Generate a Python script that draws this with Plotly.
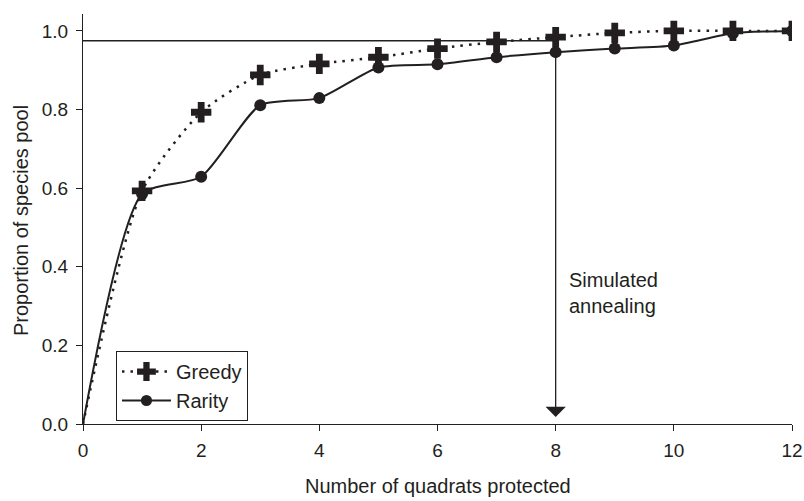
import plotly.graph_objects as go

quadrats = [0, 1, 2, 3, 4, 5, 6, 7, 8, 9, 10, 11, 12]
greedy = [0.0, 0.593, 0.793, 0.888, 0.916, 0.933, 0.955, 0.972, 0.984, 0.995, 1.0, 1.0, 1.0]
rarity = [0.0, 0.585, 0.629, 0.811, 0.829, 0.907, 0.915, 0.933, 0.946, 0.955, 0.963, 0.994, 1.0]
x_ticks = [0, 2, 4, 6, 8, 10, 12]
y_ticks = [0.0, 0.2, 0.4, 0.6, 0.8, 1.0]
target_level = 0.975
sa_quadrats = 8
sa_value = 0.946

ink = "#231f20"
font = "Liberation Sans, Arial, sans-serif"
FS = 20

# no marker drawn at the origin point
cross_sizes = [0] + [17] * (len(quadrats) - 1)
dot_sizes = [0] + [12] * (len(quadrats) - 1)

fig = go.Figure()
fig.add_trace(go.Scatter(
    x=quadrats, y=greedy, name="Greedy", mode="lines+markers",
    line=dict(color=ink, width=2.5, dash="2.5px,6px", shape="spline", smoothing=0.65),
    marker=dict(symbol="cross", size=cross_sizes, color=ink, opacity=1,
                line=dict(width=0)),
))
fig.add_trace(go.Scatter(
    x=quadrats, y=rarity, name="Rarity", mode="lines+markers",
    line=dict(color=ink, width=2, shape="spline", smoothing=0.65),
    marker=dict(symbol="circle", size=dot_sizes, color=ink, opacity=1,
                line=dict(width=0)),
))

fig.add_shape(type="line", x0=0, x1=sa_quadrats, y0=target_level, y1=target_level,
              xref="x", yref="y", line=dict(color=ink, width=1.3))
fig.add_annotation(x=sa_quadrats, y=0.018, ax=sa_quadrats, ay=sa_value,
                   xref="x", yref="y", axref="x", ayref="y",
                   text="", showarrow=True, arrowhead=1, arrowsize=2.6,
                   arrowwidth=1.3, arrowcolor=ink, standoff=0)
fig.add_annotation(x=sa_quadrats + 0.2, y=0.333, xref="x", yref="y",
                   text="Simulated<br>annealing", showarrow=False,
                   xanchor="left", yanchor="middle", align="left",
                   font=dict(family=font, size=FS, color=ink))

# axis titles
fig.add_annotation(x=0.5, y=-0.152, xref="paper", yref="paper",
                   text="Number of quadrats protected", showarrow=False,
                   xanchor="center", yanchor="middle",
                   font=dict(family=font, size=FS, color=ink))
fig.add_annotation(x=-0.0874, y=0.495, xref="paper", yref="paper",
                   text="Proportion of species pool", showarrow=False,
                   textangle=-90, xanchor="center", yanchor="middle",
                   font=dict(family=font, size=FS, color=ink))

fig.update_layout(
    width=804, height=501,
    margin=dict(l=83, r=12, t=14, b=77),
    paper_bgcolor="white", plot_bgcolor="white",
    font=dict(family=font, size=FS, color=ink),
    showlegend=True,
    legend=dict(x=0.0465, y=0.178, xanchor="left", yanchor="top",
                bordercolor=ink, borderwidth=1, bgcolor="white",
                font=dict(family=font, size=FS, color=ink),
                tracegroupgap=0, itemwidth=49),
    xaxis=dict(range=[0, 12], tickvals=x_ticks, ticks="outside", ticklen=6,
               tickcolor=ink, showline=True, linecolor=ink, linewidth=1.3,
               showgrid=False, zeroline=False, automargin=False,
               ticklabelstandoff=3,
               tickfont=dict(family=font, size=19, color=ink)),
    yaxis=dict(range=[0, 1.043], tickvals=y_ticks, tickformat=".1f",
               ticks="outside", ticklen=6, tickcolor=ink, showline=True,
               linecolor=ink, linewidth=1.3, showgrid=False, zeroline=False,
               automargin=False, ticklabelstandoff=4,
               tickfont=dict(family=font, size=19, color=ink)),
)

fig.write_html("out.html")
